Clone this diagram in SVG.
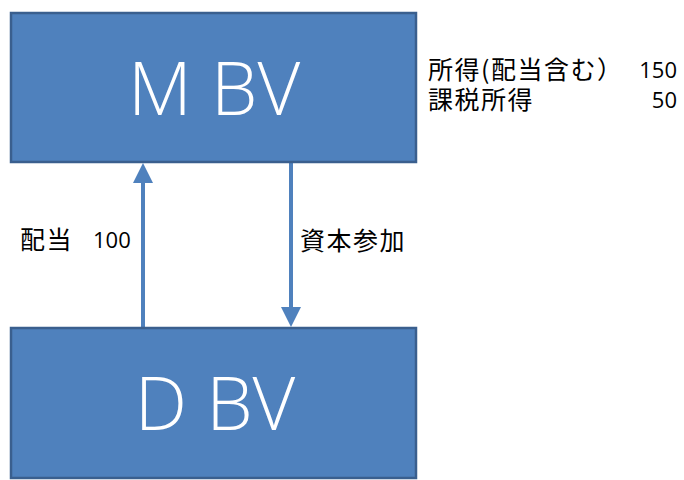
<svg xmlns="http://www.w3.org/2000/svg" width="684" height="480" viewBox="0 0 684 480">
  <style>
    .box { fill: #4F81BD; stroke: #3A5F8E; stroke-width: 2.5; }
    .big { font-family: "Open Sans", "Liberation Sans", sans-serif; font-size: 74px; font-weight: 350; fill: #FFFFFF; text-anchor: middle; }
    .jp { font-family: "Noto Sans CJK JP", sans-serif; font-size: 25px; letter-spacing: 1.5px; fill: #000000; }
    .num { font-family: "Open Sans", "Liberation Sans", sans-serif; font-size: 22px; fill: #000000; }
    .end { text-anchor: end; }
    .conn { stroke: #4F81BD; stroke-width: 4; fill: none; marker-end: url(#head); }
  </style>
  <defs>
    <marker id="head" viewBox="0 0 20 20" refX="10" refY="10" markerWidth="20" markerHeight="20" markerUnits="userSpaceOnUse" orient="auto">
      <path d="M0,0 L20,10 L0,20 Z" fill="#4F81BD"/>
    </marker>
  </defs>
  <rect width="684" height="480" fill="#FFFFFF"/>
  <g id="connectors">
    <path class="conn" d="M143,328 L143,173"/>
    <path class="conn" d="M291,162 L291,317"/>
  </g>
  <g id="node-mbv">
    <rect class="box" x="11" y="13" width="405" height="149"/>
    <text class="big" x="214" y="115">M BV</text>
  </g>
  <g id="node-dbv">
    <rect class="box" x="11" y="328" width="405" height="150"/>
    <text class="big" x="215" y="430">D BV</text>
  </g>
  <g id="labels">
    <text class="jp" x="20" y="249">配当</text>
    <text class="num" x="93" y="248">100</text>
    <text class="jp" x="300" y="250">資本参加</text>
    <text class="jp" x="428" y="79">所得(配当含む）</text>
    <text class="num end" x="677" y="78">150</text>
    <text class="jp" x="428" y="109">課税所得</text>
    <text class="num end" x="677" y="108">50</text>
  </g>
</svg>
